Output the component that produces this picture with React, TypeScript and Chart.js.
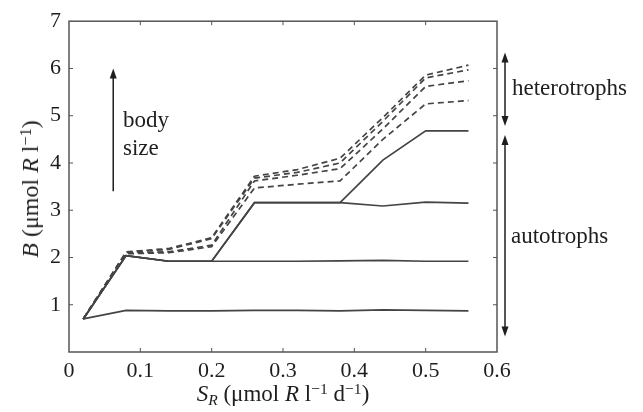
import { useEffect, useRef } from 'react'
import { Chart, registerables } from 'chart.js'

Chart.register(...registerables)

// supply rate S_R (x positions of the simulation runs)
const supplyRates = [0.02, 0.08, 0.14, 0.2, 0.26, 0.32, 0.38, 0.44, 0.5, 0.56]

// autotroph biomass, smallest body size first (solid lines)
const autotroph1 = [0.7, 0.88, 0.87, 0.87, 0.88, 0.88, 0.87, 0.89, 0.88, 0.87]
const autotroph2 = [0.7, 2.04, 1.92, 1.92, 1.92, 1.92, 1.93, 1.94, 1.92, 1.92]
const autotroph3 = [0.7, 2.04, 1.92, 1.92, 3.16, 3.16, 3.16, 3.09, 3.17, 3.15]
const autotroph4 = [0.7, 2.04, 1.92, 1.92, 3.16, 3.16, 3.16, 4.06, 4.68, 4.68]

// heterotroph biomass (dashed lines)
const heterotroph1 = [0.7, 2.08, 2.1, 2.23, 3.47, 3.55, 3.62, 4.5, 5.25, 5.32]
const heterotroph2 = [0.7, 2.1, 2.12, 2.26, 3.62, 3.74, 3.88, 4.72, 5.62, 5.74]
const heterotroph3 = [0.7, 2.11, 2.17, 2.4, 3.68, 3.8, 4.0, 4.88, 5.8, 5.97]
const heterotroph4 = [0.7, 2.12, 2.19, 2.42, 3.72, 3.86, 4.1, 4.96, 5.86, 6.07]

const xTicks = [0, 0.1, 0.2, 0.3, 0.4, 0.5, 0.6]
const yTicks = [0, 1, 2, 3, 4, 5, 6, 7]

const LINE = '#444'
const INK = '#1e1e1e'
const SERIF = '"Liberation Serif", "DejaVu Serif", serif'

const toPoints = (ys: number[]) => supplyRates.map((x, i) => ({ x, y: ys[i] }))

// frame with inward ticks on all four sides
const framePlugin = {
  id: 'frame',
  afterDatasetsDraw(chart: any) {
    const { ctx, chartArea: a, scales } = chart
    ctx.save()
    ctx.strokeStyle = '#555'
    ctx.lineWidth = 1.5
    ctx.strokeRect(a.left, a.top, a.right - a.left, a.bottom - a.top)
    ctx.lineWidth = 1
    const len = 4
    xTicks.slice(1, -1).forEach((v) => {
      const px = scales.x.getPixelForValue(v)
      ctx.beginPath()
      ctx.moveTo(px, a.bottom)
      ctx.lineTo(px, a.bottom - len)
      ctx.moveTo(px, a.top)
      ctx.lineTo(px, a.top + len)
      ctx.stroke()
    })
    yTicks.slice(1, -1).forEach((v) => {
      const py = scales.y.getPixelForValue(v)
      ctx.beginPath()
      ctx.moveTo(a.left, py)
      ctx.lineTo(a.left + len, py)
      ctx.moveTo(a.right, py)
      ctx.lineTo(a.right - len, py)
      ctx.stroke()
    })
    ctx.restore()
  },
}

function arrowHead(ctx: CanvasRenderingContext2D, x: number, y: number, dir: number) {
  ctx.beginPath()
  ctx.moveTo(x, y)
  ctx.lineTo(x - 3.5, y - dir * 10)
  ctx.lineTo(x + 3.5, y - dir * 10)
  ctx.closePath()
  ctx.fill()
}

// body size arrow and the two group arrows on the right
const arrowsPlugin = {
  id: 'arrows',
  afterDraw(chart: any) {
    const { ctx, chartArea: a, scales } = chart
    const ys = scales.y
    ctx.save()
    ctx.strokeStyle = INK
    ctx.fillStyle = INK
    ctx.lineWidth = 1.5

    const bx = scales.x.getPixelForValue(0.062)
    const b0 = ys.getPixelForValue(3.4)
    const b1 = ys.getPixelForValue(6.0)
    ctx.beginPath()
    ctx.moveTo(bx, b0)
    ctx.lineTo(bx, b1 + 8)
    ctx.stroke()
    arrowHead(ctx, bx, b1, -1)

    const rx = a.right + 8
    const segs = [
      [6.34, 4.78],
      [4.59, 0.33],
    ]
    segs.forEach(([top, bottom]) => {
      const t = ys.getPixelForValue(top)
      const b = ys.getPixelForValue(bottom)
      ctx.beginPath()
      ctx.moveTo(rx, t + 8)
      ctx.lineTo(rx, b - 8)
      ctx.stroke()
      arrowHead(ctx, rx, t, -1)
      arrowHead(ctx, rx, b, 1)
    })
    ctx.restore()
  },
}

function Label({ left, baseline, size = 23, children }: any) {
  return (
    <div
      style={{
        position: 'absolute',
        left,
        top: baseline - 0.8375 * size,
        fontFamily: SERIF,
        fontSize: size,
        lineHeight: 1,
        color: INK,
        whiteSpace: 'nowrap',
      }}
    >
      {children}
    </div>
  )
}

const sub = { fontSize: '0.68em', position: 'relative' as const, top: '0.3em', verticalAlign: 'baseline' }
const sup = { fontSize: '0.68em', position: 'relative' as const, top: '-0.45em', verticalAlign: 'baseline' }

export default function App() {
  const chartRef = useRef<HTMLCanvasElement>(null)
  const chartInstance = useRef<Chart | null>(null)

  useEffect(() => {
    if (!chartRef.current) return
    if (chartInstance.current) chartInstance.current.destroy()
    const ctx = chartRef.current.getContext('2d')
    if (!ctx) return

    const solid = [autotroph1, autotroph2, autotroph3, autotroph4]
    const dashed = [heterotroph1, heterotroph2, heterotroph3, heterotroph4]

    chartInstance.current = new Chart(ctx, {
      type: 'line',
      data: {
        datasets: [
          ...solid.map((ys, i) => ({
            label: `autotroph ${i + 1}`,
            data: toPoints(ys),
            borderColor: LINE,
            borderWidth: 1.7,
            pointRadius: 0,
          })),
          ...dashed.map((ys, i) => ({
            label: `heterotroph ${i + 1}`,
            data: toPoints(ys),
            borderColor: LINE,
            borderWidth: 1.7,
            borderDash: [6, 4],
            pointRadius: 0,
          })),
        ],
      },
      options: {
        animation: false,
        responsive: true,
        maintainAspectRatio: false,
        layout: { padding: { top: 21, right: 146, left: 0, bottom: 0 } },
        plugins: {
          legend: { display: false },
          tooltip: { enabled: false },
        },
        scales: {
          x: {
            type: 'linear',
            min: 0,
            max: 0.6,
            afterFit: (s: any) => {
              s.height = 60
            },
            afterBuildTicks: (s: any) => {
              s.ticks = xTicks.map((value) => ({ value }))
            },
            grid: { display: false, drawTicks: false },
            border: { display: false },
            ticks: {
              padding: 6,
              color: INK,
              font: { family: SERIF, size: 22 },
              callback: (v: any) => (Number(v) === 0 ? '0' : Number(v).toFixed(1)),
            },
          },
          y: {
            type: 'linear',
            min: 0,
            max: 7,
            afterFit: (s: any) => {
              s.width = 69
            },
            afterBuildTicks: (s: any) => {
              s.ticks = yTicks.map((value) => ({ value }))
            },
            grid: { display: false, drawTicks: false },
            border: { display: false },
            ticks: {
              padding: 8,
              color: INK,
              font: { family: SERIF, size: 22 },
              callback: (v: any) => (Number(v) === 0 ? '' : String(v)),
            },
          },
        },
      },
      plugins: [framePlugin, arrowsPlugin],
    } as any)

    return () => {
      if (chartInstance.current) {
        chartInstance.current.destroy()
        chartInstance.current = null
      }
    }
  }, [])

  return (
    <div style={{ position: 'absolute', left: 0, top: 0, width: 643, height: 412, background: '#fff' }}>
      <canvas ref={chartRef} />
      <Label left={123} baseline={127}>body</Label>
      <Label left={123} baseline={155}>size</Label>
      <Label left={512} baseline={95}>heterotrophs</Label>
      <Label left={511} baseline={243}>autotrophs</Label>
      <div
        style={{
          position: 'absolute',
          left: 283,
          top: 401 - 0.8375 * 23,
          transform: 'translateX(-50%)',
          fontFamily: SERIF,
          fontSize: 23,
          lineHeight: 1,
          color: INK,
          whiteSpace: 'nowrap',
        }}
      >
        <i>S</i>
        <i style={sub}>R</i> (μmol <i>R</i> l<span style={sup}>−1</span> d<span style={sup}>−1</span>)
      </div>
      <div
        style={{
          position: 'absolute',
          left: 30,
          top: 189,
          transform: 'translate(-50%, -50%) rotate(-90deg)',
          fontFamily: SERIF,
          fontSize: 24,
          lineHeight: 1,
          color: INK,
          whiteSpace: 'nowrap',
        }}
      >
        <i>B</i> (μmol <i>R</i> l<span style={sup}>−1</span>)
      </div>
    </div>
  )
}
